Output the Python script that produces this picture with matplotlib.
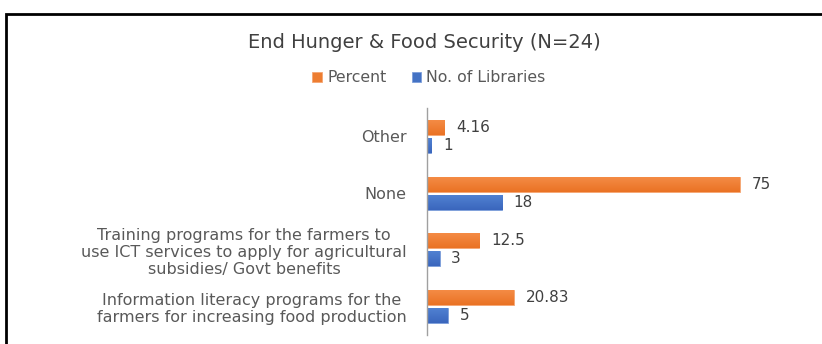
import matplotlib
matplotlib.use("Agg")
import matplotlib.pyplot as plt
import numpy as np
from matplotlib.colors import LinearSegmentedColormap
from matplotlib.patches import Rectangle

# survey answers, listed bottom to top as drawn
categories = [
    "Information literacy programs for the\nfarmers for increasing food production",
    "Training programs for the farmers to\nuse ICT services to apply for agricultural\nsubsidies/ Govt benefits",
    "None",
    "Other",
]
percent = [20.83, 12.5, 75, 4.16]
libraries = [5, 3, 18, 1]

orange = "#ED7D31"
blue = "#4472C4"
text_col = "#595959"

plt.rcParams["font.family"] = ["DejaVu Sans"]

fig = plt.figure(figsize=(8.22, 3.44), dpi=100)
ax = fig.add_axes([427 / 822, 9 / 344, 375 / 822, 227 / 344])

y = range(len(categories))
off = 0.16
h = 0.265
b1 = ax.barh([i + off for i in y], percent, height=h, color=orange,
             edgecolor="#f5a673", linewidth=0.6, label="Percent")
b2 = ax.barh([i - off for i in y], libraries, height=h, color=blue,
             edgecolor="#7d9edb", linewidth=0.6, label="No. of Libraries")


def shade(bars, top, bottom):
    # soft vertical gradient on every bar, clipped to the bar shape
    cmap = LinearSegmentedColormap.from_list("g", [top, bottom])
    grad = np.linspace(0, 1, 64).reshape(-1, 1)
    for p in bars:
        x0, y0 = p.get_x(), p.get_y()
        im = ax.imshow(grad, cmap=cmap, aspect="auto", interpolation="bilinear",
                       extent=[x0, x0 + p.get_width(), y0, y0 + p.get_height()],
                       zorder=p.get_zorder() + 0.1)
        im.set_clip_path(p)


shade(b1, "#f58d47", "#ea7224")
shade(b2, "#5283d3", "#3a66bd")

ax.bar_label(b1, labels=[f"{v:g}" for v in percent], padding=8.5,
             fontsize=11, color="#404040")
ax.bar_label(b2, labels=[f"{v:g}" for v in libraries], padding=8.5,
             fontsize=11, color="#404040")

ax.set_xlim(0, 90)
ax.set_ylim(-0.5, 3.5)
ax.set_yticks(list(y))
ax.set_yticklabels(categories, fontsize=11.5, color=text_col,
                   ha="right", multialignment="center", linespacing=1.18)
ax.tick_params(axis="y", length=0, pad=14.5)
ax.set_xticks([])
for s in ["top", "right", "bottom"]:
    ax.spines[s].set_visible(False)
ax.spines["left"].set_color("#a0a0a0")
ax.spines["left"].set_linewidth(1.0)

fig.text(424 / 822, 1 - 42 / 344, "End Hunger & Food Security (N=24)",
         ha="center", va="center", fontsize=14, color="#404040")

fig.legend(handles=[b1, b2], loc="center", bbox_to_anchor=(429 / 822, 1 - 78 / 344),
           ncol=2, frameon=False, fontsize=11.3, labelcolor=text_col,
           handlelength=0.6, handleheight=0.6, handletextpad=0.35, columnspacing=1.6)

# chart frame, only the top and left edges fall inside the image
fig.patches.append(Rectangle((6 / 822, -0.2), 1.5, 1.2 - 14 / 344, fill=False,
                             edgecolor="black", linewidth=2,
                             transform=fig.transFigure, figure=fig))

fig.savefig("out.png", dpi=100)
